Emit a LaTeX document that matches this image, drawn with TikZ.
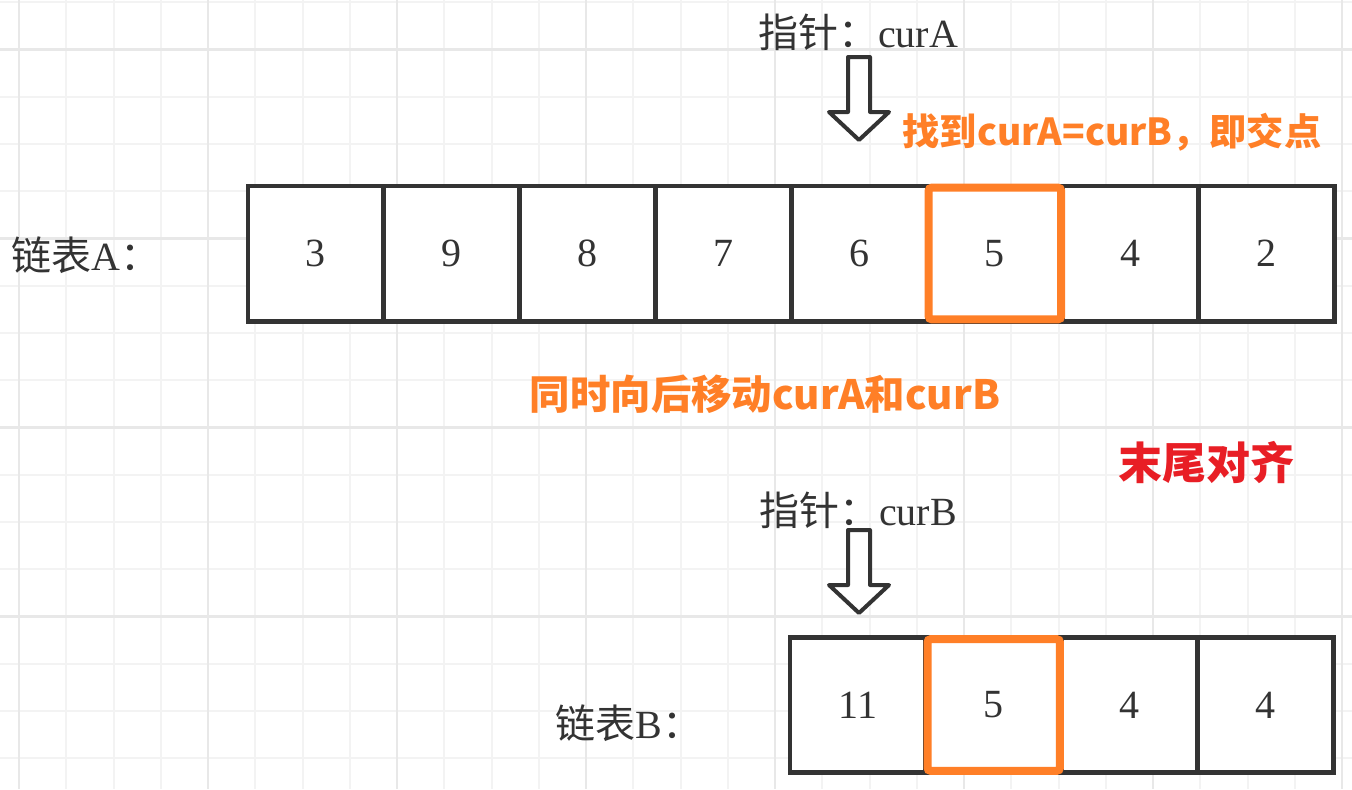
\documentclass[tikz,border=0pt]{standalone}
\usepackage{fontspec}
\setmainfont{Liberation Serif}
\newfontfamily\cjk{Noto Sans CJK SC}
\usetikzlibrary{positioning}
\definecolor{GridMinor}{RGB}{243,243,243}
\definecolor{GridMajor}{RGB}{232,232,232}
\definecolor{CellInk}{RGB}{51,51,51}
\definecolor{HitOrange}{RGB}{255,127,39}
\definecolor{NoteRed}{RGB}{232,30,37}

\begin{document}
\begin{tikzpicture}[x=0.5pt,y=-0.5pt,
  gridminor/.style={GridMinor,line width=1pt},
  gridmajor/.style={GridMajor,line width=1.4pt},
  cell/.style={draw=CellInk,fill=white,line width=2.4pt,minimum width=67.9pt,minimum height=67.6pt,
    inner sep=0pt,outer sep=0pt,text=CellInk,font=\fontsize{20}{20}\selectfont},
  hit/.style={draw=HitOrange,line width=4pt,rounded corners=1.5pt,minimum width=66.2pt,
    minimum height=65.8pt,inner sep=0pt,outer sep=0pt},
  listname/.style={text=CellInk,inner sep=0pt,font=\fontsize{20}{20}\selectfont},
  hint/.style={text=HitOrange,inner sep=0pt,font={\cjk\bfseries\fontsize{18.6}{18.6}\selectfont}},
  hollow/.style={draw=CellInk,fill=white,line width=2pt,line join=round}]
\fill[white] (0,0) rectangle (1352,789);
\useasboundingbox (0,0) rectangle (1352,789);

% background grid
\foreach \k in {0,...,28}
  \draw[gridminor] ({19+47.25*\k},0) -- ({19+47.25*\k},789);
\foreach \k in {0,...,16}
  \draw[gridminor] (0,{2+47.25*\k}) -- (1352,{2+47.25*\k});
\foreach \k in {0,4,...,28}
  \draw[gridmajor] ({19+47.25*\k},0) -- ({19+47.25*\k},789);
\foreach \k in {1,5,9,13}
  \draw[gridmajor] (0,{2+47.25*\k}) -- (1352,{2+47.25*\k});

% list A
\foreach \v [count=\i] in {3,9,8,7,6,5,4,2}
  \node[cell] (a\i) at ({248+135.8*(\i-0.5)},253.5) {\v};
\node[hit] (hitA) at (a6) {};
\node[listname] (nameA) at (86,255) {{\cjk 链表}A{\cjk ：}};

% list B
\foreach \v [count=\i] in {11,5,4,4}
  \node[cell] (b\i) at ({790+135.8*(\i-0.5)},705) {\v};
\node[hit] (hitB) at (b2) {};
\node[listname] (nameB) at (629,723) {{\cjk 链表}B{\cjk ：}};

% pointers
\node[listname] (ptrA) at (858,32) {{\cjk 指针：}curA};
\node[listname] (ptrB) at (858,510) {{\cjk 指针：}curB};
\coordinate (topA) at (859,57);
\coordinate (topB) at (859,530);
\draw[hollow] (topA) ++(-11,0) -- ++(22,0) -- ++(0,55) -- ++(19,0) -- ++(-30,28)
  -- ++(-30,-28) -- ++(19,0) -- cycle;
\draw[hollow] (topB) ++(-11,0) -- ++(22,0) -- ++(0,55) -- ++(19,0) -- ++(-30,28)
  -- ++(-30,-28) -- ++(19,0) -- cycle;

% notes
\node[hint] (found) at (1112,132) {找到curA=curB，即交点};
\node[hint,font={\cjk\bfseries\fontsize{20.2}{20.2}\selectfont}] (move) at (765,394)
  {同时向后移动curA和curB};
\node[hint,text=NoteRed,font={\cjk\bfseries\fontsize{22}{22}\selectfont}] (tail) at (1206,462)
  {末尾对齐};
\end{tikzpicture}
\end{document}
